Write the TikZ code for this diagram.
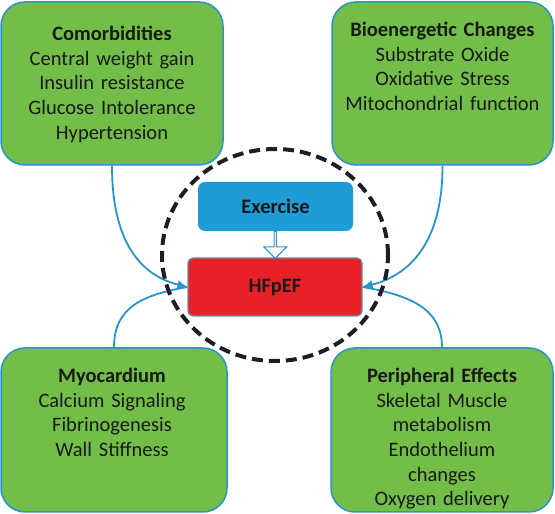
\documentclass[tikz,border=0pt]{standalone}
\usepackage{fontspec}
\setmainfont{Carlito}
\usetikzlibrary{arrows.meta}
\usetikzlibrary{shapes.arrows}
\usetikzlibrary{calc}
\usetikzlibrary{positioning}

\definecolor{boxgreen}{RGB}{114,190,72}
\definecolor{edgeblue}{RGB}{38,148,206}
\definecolor{exblue}{RGB}{30,156,216}
\definecolor{hfred}{RGB}{234,32,40}
\definecolor{hfedge}{RGB}{110,140,170}
\definecolor{inktext}{RGB}{25,25,25}
\definecolor{ringgray}{RGB}{28,30,38}

\begin{document}
\begin{tikzpicture}[x=1pt,y=1pt,
    font=\fontsize{20.5}{24.6}\selectfont,
    greenbox/.style={draw=edgeblue,line width=1.5pt,fill=boxgreen,rounded corners=24pt,inner sep=0pt},
    boxtext/.style={anchor=base,text width=218pt,align=center,inner sep=0pt,text=inktext},
    link/.style={draw=edgeblue,line width=1.8pt},
    ring/.style={draw=ringgray,line width=4pt,dash pattern=on 11pt off 6pt}]

    \useasboundingbox (0,0) rectangle (555,514);

    % four outer boxes
    \node[greenbox,minimum width=222pt,minimum height=163pt] (como) at (112,430.5) {};
    \node[greenbox,minimum width=221pt,minimum height=163pt] (bioe) at (442.5,430.5) {};
    \node[greenbox,minimum width=226pt,minimum height=164pt] (myoc) at (114,84) {};
    \node[greenbox,minimum width=222pt,minimum height=164pt] (peri) at (442,84) {};

    % texts of the boxes
    \node[boxtext] (comotext) at ($(como.north)+(0,-39.5)$)
        {\textbf{Comorbidities}\\Central weight gain\\Insulin resistance\\Glucose Intolerance\\Hypertension};
    \node[boxtext] (bioetext) at ($(bioe.north)+(0,-35.5)$)
        {\textbf{Bioenergetic Changes}\\Substrate Oxide\\Oxidative Stress\\Mitochondrial function};
    \node[boxtext] (myoctext) at ($(myoc.north)+(-2,-35.5)$)
        {\textbf{Myocardium}\\Calcium Signaling\\Fibrinogenesis\\Wall Stiffness};
    \node[boxtext] (peritext) at ($(peri.north)+(0,-35.5)$)
        {\textbf{Peripheral Effects}\\Skeletal Muscle\\metabolism\\Endothelium\\changes\\Oxygen delivery};

    % centre boxes
    \node[fill=exblue,rounded corners=7pt,minimum width=155pt,minimum height=49pt,text=inktext] (ex) at (275.5,307.5) {\textbf{Exercise}};
    \node[fill=hfred,draw=hfedge,line width=1.2pt,rounded corners=5pt,minimum width=174pt,minimum height=58pt,text=inktext] (hf) at (275,227) {\textbf{HFpEF}};

    % curved connectors
    \draw[link,-{Latex[length=10pt,width=9pt]}] (como.south) .. controls +(0,-85) and +(-40,10) .. (hf.west);
    \draw[link] (myoc.north) .. controls +(0,40) and +(-45,-8) .. (hf.west);
    \draw[link,-{Latex[length=10pt,width=9pt]}] (bioe.south) .. controls +(0,-85) and +(40,10) .. (hf.east);
    \draw[link] (peri.north) .. controls +(0,40) and +(45,-8) .. (hf.east);

    % dashed ring
    \draw[ring] (275,259) ellipse [x radius=113, y radius=106];

    % hollow arrow
    \node[single arrow,draw=edgeblue,fill=white,line width=1pt,minimum height=27pt,minimum width=23pt,
          single arrow head extend=5pt,single arrow head indent=0pt,inner sep=0pt,rotate=-90]
          (push) at ($(ex.south)!0.5!(hf.north)$) {};

\end{tikzpicture}
\end{document}
